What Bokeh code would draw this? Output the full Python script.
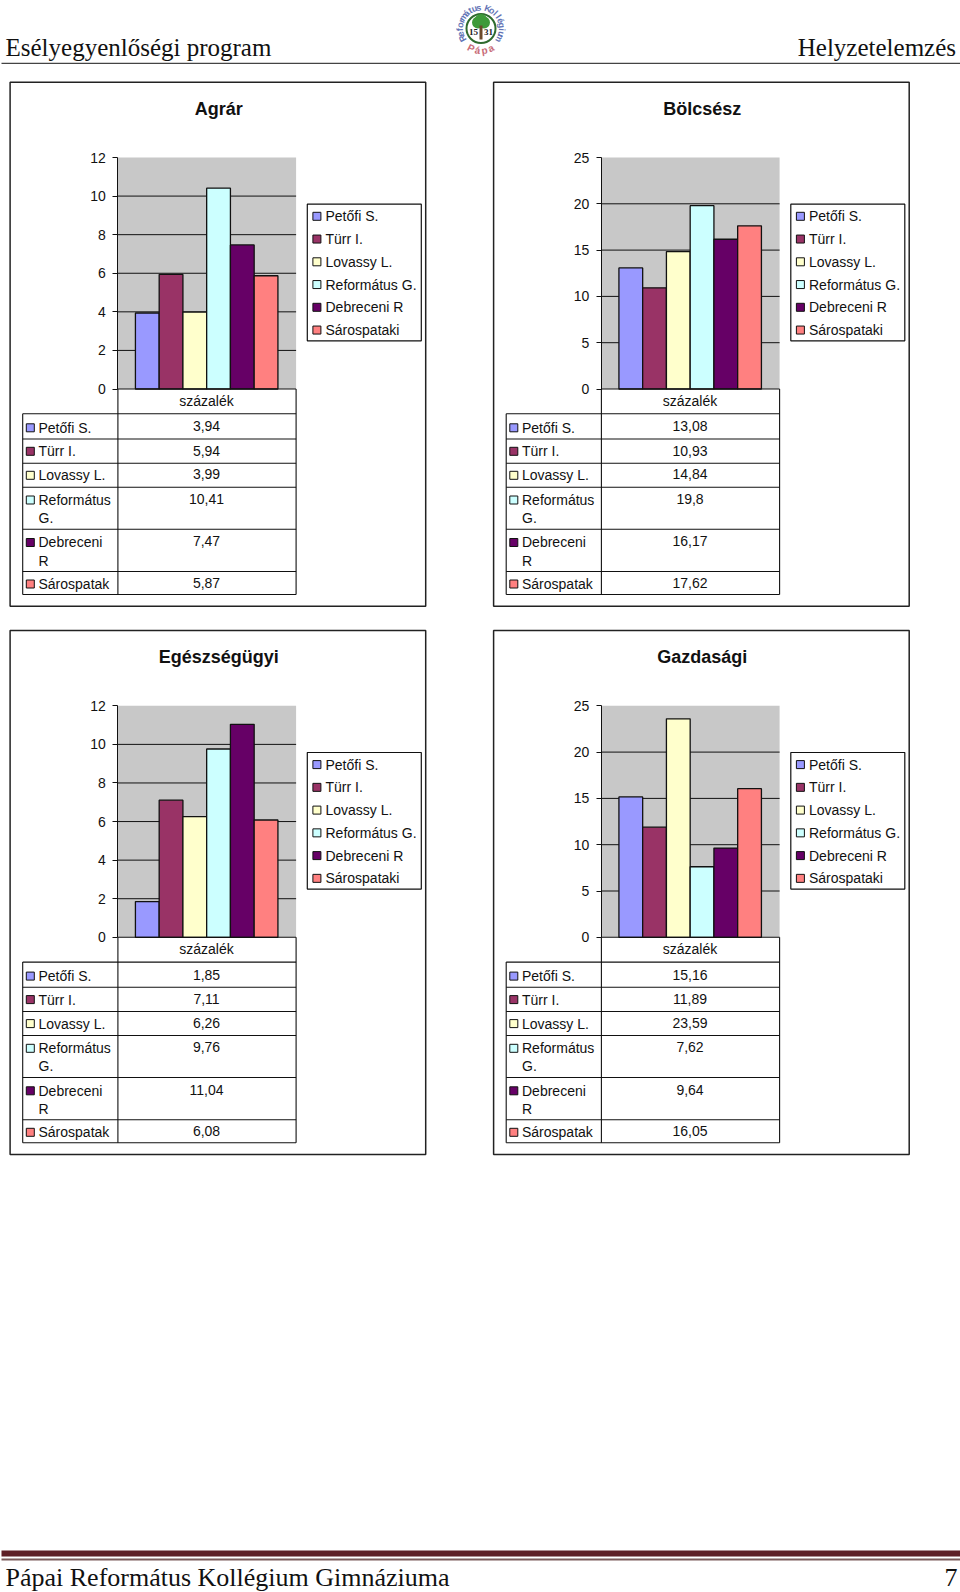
import math
from bokeh.plotting import figure
from bokeh.models import Range1d, LinearAxis, FixedTicker
from bokeh.core.properties import value
from bokeh.embed import file_html
from bokeh.resources import INLINE

# ---------- data ----------
chart_titles = ["Agrár", "Bölcsész", "Egészségügyi", "Gazdasági"]
agrar = [3.94, 5.94, 3.99, 10.41, 7.47, 5.87]
bolcsesz = [13.08, 10.93, 14.84, 19.8, 16.17, 17.62]
egeszseg = [1.85, 7.11, 6.26, 9.76, 11.04, 6.08]
gazdasagi = [15.16, 11.89, 23.59, 7.62, 9.64, 16.05]
ticks_12 = [0, 2, 4, 6, 8, 10, 12]
ticks_25 = [0, 5, 10, 15, 20, 25]
legend_labels = ["Petőfi S.", "Türr I.", "Lovassy L.", "Református G.", "Debreceni R", "Sárospataki"]
table_labels = ["Petőfi S.", "Türr I.", "Lovassy L.", "Református\nG.", "Debreceni\nR", "Sárospatak"]
column_label = "százalék"
colors = ["#9999FF", "#993366", "#FFFFCC", "#CCFFFF", "#660066", "#FF8080"]
header_left = "Esélyegyenlőségi program"
header_right = "Helyzetelemzés"
footer_left = "Pápai Református Kollégium Gimnáziuma"
footer_right = "7"

W, H = 960, 1592
SANS = value("Liberation Sans")
SERIF = value("Liberation Serif")

p = figure(width=W, height=H, x_range=Range1d(0, W), y_range=Range1d(H, 0),
           output_backend="svg", toolbar_location=None, x_axis_type=None, y_axis_type=None,
           min_border=0, min_border_left=0, min_border_right=0, min_border_top=0, min_border_bottom=0,
           outline_line_color=None)
p.grid.visible = False

# ---------- layout constants (page pixels) ----------
INK = "#111111"
PANEL = (9.6, 425.2, 81.7, 605.7)
PLOT_L, PLOT_R, PLOT_T, PLOT_B = 117.4, 295.6, 157.0, 388.5
BAR0, BAR_W = 146.8, 23.75
TAB_L = 22.2
TAB_LINES = [413.3, 438.5, 462.7, 486.7, 528.7, 571.0, 594.0]
TAB_VAL_Y = [425.8, 450.2, 473.8, 498.2, 540.8, 582.5]
TAB_LAB_Y = [427.3, 450.8, 474.8, 508.5, 551.0, 583.5]
LEG = (306.8, 420.8, 203.7, 340.3)
LEG_Y0, LEG_DY = 215.8, 22.75
DX, DY = 483.5, 548.3


def chart(idx, title, vals, ticks):
    ox = DX * (idx % 2)
    oy = DY * (idx // 2)
    name = f"c{idx}"
    zero = PLOT_B + oy
    top = PLOT_T + oy
    sy = (zero - top) / max(ticks)
    p.extra_y_ranges[name] = Range1d((zero - H) / sy, zero / sy)
    c0 = BAR0 + ox
    p.extra_x_ranges[name] = Range1d((0 - c0) / BAR_W, (W - c0) / BAR_W)
    L, R = PLOT_L + ox, PLOT_R + ox

    # panel frame
    p.quad(left=[PANEL[0] + ox], right=[PANEL[1] + ox], top=[PANEL[2] + oy], bottom=[PANEL[3] + oy],
           fill_color="white", line_color="#222222", line_width=1.5)
    # plot area and gridlines
    p.quad(left=[L], right=[R], bottom=[0], top=[max(ticks)], y_range_name=name,
           fill_color="#C8C8C8", line_color=None)
    gt = [t for t in ticks if 0 < t < max(ticks)]
    p.segment(x0=[L] * len(gt), x1=[R] * len(gt), y0=gt, y1=gt, y_range_name=name,
              line_color=INK, line_width=1)
    # bars
    p.vbar(x=list(range(len(vals))), top=vals, bottom=0, width=1, fill_color=colors,
           line_color=INK, line_width=1.3, x_range_name=name, y_range_name=name)
    # value axis
    ax = LinearAxis(y_range_name=name, fixed_location=L, bounds=(0, max(ticks)),
                    ticker=FixedTicker(ticks=ticks))
    ax.major_label_text_font = "Liberation Sans"
    ax.major_label_text_font_size = "14px"
    ax.major_label_text_color = "#111111"
    ax.major_label_standoff = 7
    ax.major_tick_out = 5
    ax.major_tick_in = 0
    ax.minor_tick_line_color = None
    ax.axis_line_color = INK
    ax.major_tick_line_color = INK
    p.add_layout(ax, "left")

    # title
    p.text(x=[218.2 + ox], y=[108.6 + oy], text=[title], text_font=SANS, text_font_size="18px",
           text_font_style="bold", text_align="center", text_baseline="middle", text_color="#111111")

    # legend
    p.quad(left=[LEG[0] + ox], right=[LEG[1] + ox], top=[LEG[2] + oy], bottom=[LEG[3] + oy],
           fill_color="white", line_color=INK, line_width=1.2)
    ly = [LEG_Y0 + oy + LEG_DY * i for i in range(len(legend_labels))]
    p.scatter(x=[316.4 + ox] * 6, y=ly, marker="square", size=8, fill_color=colors,
              line_color=INK, line_width=1)
    p.text(x=[325.0 + ox] * 6, y=ly, text=legend_labels, text_font=SANS, text_font_size="14px",
           text_baseline="middle", text_color="#111111")

    # data table
    lines = [PLOT_B + oy] + [v + oy for v in TAB_LINES]
    tl = TAB_L + ox
    p.segment(x0=[L] + [tl] * 7, x1=[R] * 8, y0=lines, y1=lines, line_color=INK, line_width=1.1)
    p.segment(x0=[tl, L, R], x1=[tl, L, R], y0=[lines[1], lines[0], lines[0]],
              y1=[lines[-1]] * 3, line_color=INK, line_width=1.1)
    cx = 206.0 + ox
    p.text(x=[cx], y=[400.4 + oy], text=[column_label], text_font=SANS, text_font_size="14px",
           text_align="center", text_baseline="middle", text_color="#111111")
    val_txt = [str(v).replace(".", ",") for v in vals]
    p.text(x=[cx] * 6, y=[v + oy for v in TAB_VAL_Y], text=val_txt, text_font=SANS, text_font_size="14px",
           text_align="center", text_baseline="middle", text_color="#111111")
    lab_y = [v + oy for v in TAB_LAB_Y]
    p.text(x=[38.0 + ox] * 6, y=lab_y, text=table_labels, text_font=SANS, text_font_size="14px",
           text_line_height=1.14, text_baseline="middle", text_color="#111111")
    sw_y = [v + oy for v in [427.3, 450.8, 474.8, 499.5, 542.0, 583.5]]
    p.scatter(x=[29.8 + ox] * 6, y=sw_y, marker="square", size=8, fill_color=colors,
              line_color=INK, line_width=1)


for i, (t, v, k) in enumerate(zip(chart_titles, [agrar, bolcsesz, egeszseg, gazdasagi],
                                  [ticks_12, ticks_25, ticks_12, ticks_25])):
    chart(i, t, v, k)

# ---------- header ----------
p.text(x=[5], y=[46.5], text=[header_left], text_font=SERIF, text_font_size="25px",
       text_baseline="middle", text_color="#111111")
p.text(x=[955.5], y=[46.5], text=[header_right], text_font=SERIF, text_font_size="25px",
       text_align="right", text_baseline="middle", text_color="#111111")
p.segment(x0=[1], x1=[960], y0=[62.8], y1=[62.8], line_color="#444444", line_width=1.2)

# ---------- logo ----------
LX, LY, LR = 480.5, 28.0, 21.0
ring = "Református Kollégium"
a0, a1 = -118, 118
ang = [math.radians(a0 + (a1 - a0) * i / (len(ring) - 1)) for i in range(len(ring))]
p.text(x=[LX + LR * math.sin(a) for a in ang], y=[LY - LR * math.cos(a) for a in ang],
       text=list(ring), angle=[-a for a in ang], text_font=SANS, text_font_size="9px",
       text_font_style="bold", text_align="center", text_baseline="middle", text_color="#6273B5")
pa = "Pápa"
pang = [math.radians(-27 + 18 * i) for i in range(4)]
p.text(x=[LX + 22 * math.sin(a) for a in pang], y=[LY + 22 * math.cos(a) for a in pang],
       text=list(pa), angle=[a for a in pang], text_font=SANS, text_font_size="10px",
       text_font_style="bold", text_align="center", text_baseline="middle", text_color="#C86B78")
p.circle(x=[LX], y=[LY], radius=14.5, fill_color="white", line_color="#2F6B2F", line_width=2)
p.circle(x=[LX - 3, LX + 3, LX], y=[LY - 6, LY - 6, LY - 8], radius=[6, 6, 6.5],
         fill_color="#3E9A3A", line_color=None)
p.quad(left=[LX - 1.5], right=[LX + 1.5], top=[LY - 3], bottom=[LY + 11], fill_color="#6B4A2A", line_color=None)
p.text(x=[LX - 7.5, LX + 7.5], y=[LY + 3.5, LY + 3.5], text=["15", "31"], text_font=SERIF, text_font_size="9px",
       text_font_style="bold", text_align="center", text_baseline="middle", text_color="#222222")

# ---------- footer ----------
p.quad(left=[1], right=[960], top=[1550], bottom=[1556], fill_color="#5E1F26", line_color=None)
p.quad(left=[1], right=[960], top=[1558], bottom=[1560], fill_color="#7A5A5A", line_color=None)
p.text(x=[5], y=[1576.5], text=[footer_left], text_font=SERIF, text_font_size="26px",
       text_baseline="middle", text_color="#111111")
p.text(x=[957], y=[1576.5], text=[footer_right], text_font=SERIF, text_font_size="26px",
       text_align="right", text_baseline="middle", text_color="#111111")

open("out.html", "w").write(file_html(p, INLINE))
